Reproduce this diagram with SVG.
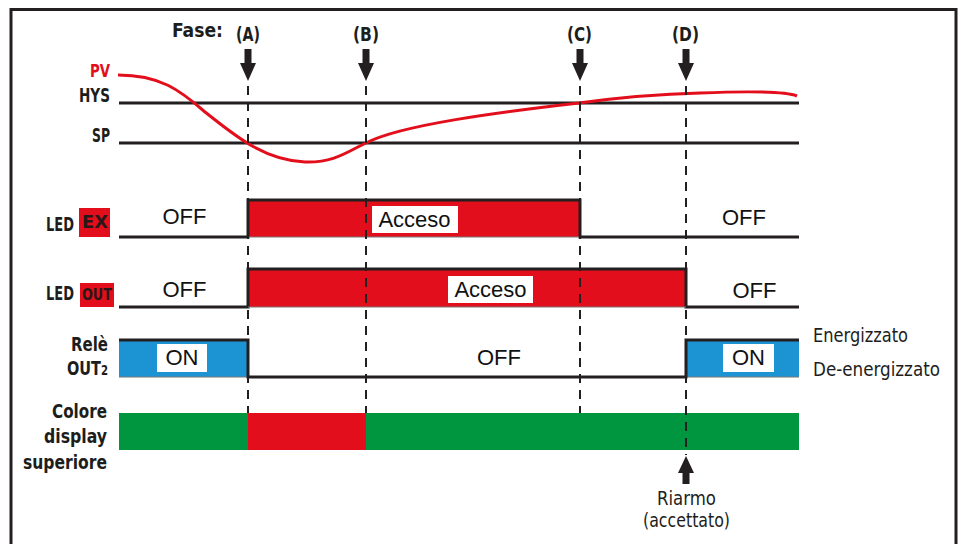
<svg xmlns="http://www.w3.org/2000/svg" width="966" height="544" viewBox="0 0 966 544">
<style>
.lbl{font-family:"DejaVu Sans Condensed","DejaVu Sans",sans-serif;font-weight:bold;fill:#1d1d1b}
.reg{font-family:"DejaVu Sans Condensed","DejaVu Sans",sans-serif;font-weight:normal;fill:#1d1d1b}
.st{font-family:"Liberation Sans",Arial,sans-serif;font-size:22px;fill:#111;text-anchor:middle}
.ln{stroke:#231f20;stroke-width:3;fill:none}
.base{stroke:#777;stroke-width:1;fill:none}
.dash{stroke:#231f20;stroke-width:2;stroke-dasharray:9 7;fill:none}
.red{fill:#e30e1b}
.blue{fill:#1c93d2}
.green{fill:#009640}
.box{fill:#fff}
.arr{fill:#231f20}
</style>
<rect width="966" height="544" fill="#fff"/>
<path d="M11,548 V9.5 H956 V548" fill="none" stroke="#231f20" stroke-width="3"/>

<g id="fase">
<text class="lbl" transform="translate(172,37) scale(0.75,1)" font-size="19" textLength="68" lengthAdjust="spacingAndGlyphs">Fase:</text>
<text class="lbl" transform="translate(236,41) scale(0.75,1)" font-size="19" textLength="32" lengthAdjust="spacingAndGlyphs">(A)</text>
<text class="lbl" transform="translate(353,41) scale(0.75,1)" font-size="19" textLength="34.7" lengthAdjust="spacingAndGlyphs">(B)</text>
<text class="lbl" transform="translate(567,41) scale(0.75,1)" font-size="19" textLength="33.3" lengthAdjust="spacingAndGlyphs">(C)</text>
<text class="lbl" transform="translate(672,41) scale(0.75,1)" font-size="19" textLength="36" lengthAdjust="spacingAndGlyphs">(D)</text>
</g>

<g id="process">
<text class="lbl" transform="translate(90,77) scale(0.75,1)" font-size="18" textLength="26.7" lengthAdjust="spacingAndGlyphs" style="fill:#e30e1b">PV</text>
<text class="lbl" transform="translate(79,102) scale(0.75,1)" font-size="20" textLength="41.3" lengthAdjust="spacingAndGlyphs">HYS</text>
<text class="lbl" transform="translate(92,142) scale(0.75,1)" font-size="20" textLength="24" lengthAdjust="spacingAndGlyphs">SP</text>
<line class="ln" x1="119" y1="103" x2="799" y2="103"/>
<line class="ln" x1="119" y1="143" x2="799" y2="143"/>
<path d="M118,75 C160,75 180,90 205,112 C232,133 262,160 305,162 C335,163 350,150 366,143 C400,125 500,112 579,103 C630,96 660,94 700,93 C750,91 785,91 797,96" fill="none" stroke="#e30e1b" stroke-width="3"/>
</g>

<g id="led-ex">
<text class="lbl" transform="translate(46,231) scale(0.75,1)" font-size="20" textLength="37.3" lengthAdjust="spacingAndGlyphs">LED</text>
<rect class="red" x="79" y="208" width="31" height="29"/>
<text class="lbl" transform="translate(82,228) scale(0.75,1)" font-size="18" textLength="34.7" lengthAdjust="spacingAndGlyphs" style="fill:#2b1718">EX</text>
<rect class="red" x="248" y="200" width="332" height="37"/>
<path class="ln" d="M119,237 H248 V200 H580 V237 H799"/>
<line class="base" x1="248" y1="237" x2="580" y2="237"/>
<text class="st" x="184.5" y="224">OFF</text>
<rect class="box" x="372" y="206" width="86" height="27"/>
<text class="st" x="414.5" y="227">Acceso</text>
<text class="st" x="744" y="225">OFF</text>
</g>

<g id="led-out">
<text class="lbl" transform="translate(46,300) scale(0.75,1)" font-size="20" textLength="37.3" lengthAdjust="spacingAndGlyphs">LED</text>
<rect class="red" x="80" y="283" width="34" height="24"/>
<text class="lbl" transform="translate(82,300) scale(0.75,1)" font-size="15" textLength="40" lengthAdjust="spacingAndGlyphs" style="fill:#2b1718">OUT</text>
<rect class="red" x="248" y="269" width="438" height="38"/>
<path class="ln" d="M119,307 H248 V269 H686 V307 H799"/>
<line class="base" x1="248" y1="307" x2="686" y2="307"/>
<text class="st" x="184.5" y="297">OFF</text>
<rect class="box" x="448" y="276" width="85" height="27"/>
<text class="st" x="490.5" y="297">Acceso</text>
<text class="st" x="754.5" y="298">OFF</text>
</g>

<g id="rele-out2">
<text class="lbl" transform="translate(71,351) scale(0.75,1)" font-size="20" textLength="49.3" lengthAdjust="spacingAndGlyphs">Relè</text>
<text class="lbl" transform="translate(67,375) scale(0.75,1)" font-size="20" textLength="54.7" lengthAdjust="spacingAndGlyphs">OUT<tspan font-size="14">2</tspan></text>
<rect class="blue" x="119" y="340" width="129" height="37"/>
<rect class="blue" x="686" y="340" width="113" height="37"/>
<line class="base" x1="119" y1="377" x2="799" y2="377"/>
<path class="ln" d="M119,340 H248 V377 H686 V340 H799"/>
<rect class="box" x="157" y="344" width="50" height="28"/>
<text class="st" x="182" y="365">ON</text>
<text class="st" x="499" y="365">OFF</text>
<rect class="box" x="723" y="344" width="51" height="28"/>
<text class="st" x="748.5" y="365">ON</text>
<text class="reg" transform="translate(813,342) scale(0.85,1)" font-size="19" textLength="111.8" lengthAdjust="spacingAndGlyphs">Energizzato</text>
<text class="reg" transform="translate(813,376) scale(0.85,1)" font-size="19" textLength="149.4" lengthAdjust="spacingAndGlyphs">De-energizzato</text>
</g>

<g id="colore-display">
<text class="lbl" transform="translate(52,418) scale(0.75,1)" font-size="20" textLength="73.3" lengthAdjust="spacingAndGlyphs">Colore</text>
<text class="lbl" transform="translate(44,443) scale(0.75,1)" font-size="20" textLength="84" lengthAdjust="spacingAndGlyphs">display</text>
<text class="lbl" transform="translate(23,469) scale(0.75,1)" font-size="20" textLength="112" lengthAdjust="spacingAndGlyphs">superiore</text>
<rect class="green" x="119" y="413" width="129" height="37"/>
<rect class="red" x="248" y="413" width="118" height="37"/>
<rect class="green" x="366" y="413" width="433" height="37"/>
</g>

<g id="riarmo">
<text class="reg" transform="translate(657,505) scale(0.85,1)" font-size="19" textLength="69.4" lengthAdjust="spacingAndGlyphs">Riarmo</text>
<text class="reg" transform="translate(643,527) scale(0.85,1)" font-size="19" textLength="102.4" lengthAdjust="spacingAndGlyphs">(accettato)</text>
</g>

<g id="connectors">
<line class="dash" x1="248" y1="86" x2="248" y2="413"/>
<line class="dash" x1="366" y1="86" x2="366" y2="413"/>
<line class="dash" x1="580" y1="86" x2="580" y2="413"/>
<line class="dash" x1="686" y1="86" x2="686" y2="455"/>
<polygon class="arr" points="244.5,49 251.5,49 251.5,63 256,63 248,81 240,63 244.5,63"/>
<polygon class="arr" points="362.5,49 369.5,49 369.5,63 374,63 366,81 358,63 362.5,63"/>
<polygon class="arr" points="576.5,49 583.5,49 583.5,63 588,63 580,81 572,63 576.5,63"/>
<polygon class="arr" points="682.5,49 689.5,49 689.5,63 694,63 686,81 678,63 682.5,63"/>
<polygon class="arr" points="686,456 694,473 689.5,473 689.5,484 682.5,484 682.5,473 678,473"/>
</g>
</svg>
